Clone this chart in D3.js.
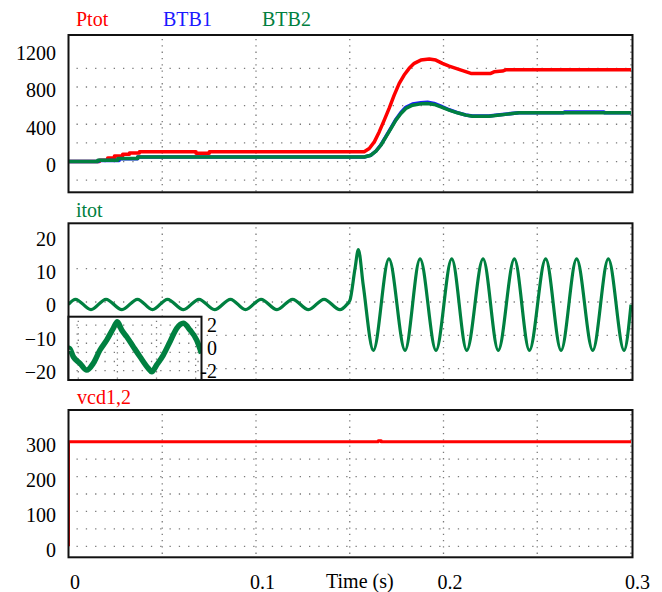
<!DOCTYPE html>
<html>
<head>
<meta charset="utf-8">
<script src="https://cdn.jsdelivr.net/npm/d3@7"></script>
<style>
  body { margin: 0; background: #fff; }
  svg text { font-family: "Liberation Serif", "Times New Roman", Times, Tinos, "DejaVu Serif", serif; }
</style>
</head>
<body>
<svg></svg>
<script>
// chart data
let timeTicks = [0, 0.1, 0.2, 0.3];
let timeGrid = [0.05, 0.1, 0.15, 0.2, 0.25, 0.3];
let legendNames = ["Ptot", "BTB1", "BTB2"];

let powerTicks = [0, 400, 800, 1200];
let powerGrid = [-200, 0, 200, 400, 600, 800, 1000];
let currentTicks = [-20, -10, 0, 10, 20];
let currentGrid = [-20, -10, 0, 10];
let voltageTicks = [0, 100, 200, 300];
let voltageGrid = [0, 50, 100, 150, 200, 250];
let insetTicks = [-2, 0, 2];
let insetGridY = [-2, -1.2, -0.4, 0.4, 1.2, 2];
let insetGridX = [2.5, 12.5, 22.5, 32.5];

// [time (s), value]
let ptot = [[0, 0], [0.0165, 0], [0.0165, 14], [0.0209, 14], [0.0209, 39], [0.0245, 39], [0.0245, 60],
  [0.0289, 60], [0.0289, 78], [0.0325, 78], [0.0325, 92], [0.0378, 92], [0.0378, 105], [0.068, 105],
  [0.068, 88], [0.0751, 88], [0.0751, 105], [0.1577, 105], [0.1604, 140], [0.1631, 211], [0.1657, 318],
  [0.1684, 444], [0.1710, 570], [0.1737, 713], [0.1764, 839], [0.1790, 928], [0.1817, 1000],
  [0.1844, 1054], [0.1879, 1089], [0.1924, 1100], [0.1959, 1089], [0.1994, 1054], [0.2030, 1025],
  [0.2066, 1000], [0.2110, 971], [0.2146, 946], [0.2252, 946], [0.2270, 963], [0.2314, 971],
  [0.2332, 985], [0.3, 985]];

let btb1 = [[0, 0], [0.0160, 0], [0.0160, 12], [0.0270, 12], [0.0270, 30], [0.0369, 30], [0.0369, 49],
  [0.1577, 49], [0.1613, 68], [0.1640, 113], [0.1666, 178], [0.1693, 270], [0.1720, 362], [0.1746, 452],
  [0.1773, 526], [0.1799, 582], [0.1835, 618], [0.1879, 632], [0.1915, 636], [0.1950, 624], [0.1986, 595],
  [0.2030, 556], [0.2074, 525], [0.2119, 500], [0.2154, 489], [0.2243, 489], [0.2288, 500], [0.2341, 511],
  [0.2403, 523], [0.2640, 523], [0.2645, 532], [0.2856, 532], [0.2860, 523], [0.3, 523]];

let btb2 = [[0, 0], [0.0156, 0], [0.0156, 14], [0.0263, 14], [0.0263, 32], [0.0369, 32], [0.0369, 49],
  [0.1577, 49], [0.1613, 68], [0.1640, 111], [0.1666, 175], [0.1693, 265], [0.1720, 355], [0.1746, 444],
  [0.1773, 516], [0.1799, 570], [0.1835, 605], [0.1879, 619], [0.1915, 624], [0.1950, 613], [0.1986, 587],
  [0.2030, 552], [0.2074, 523], [0.2119, 498], [0.2154, 487], [0.2243, 487], [0.2288, 498], [0.2341, 509],
  [0.2403, 523], [0.3, 523]];

let itot = [[0, -0.7], [0.0037, 0.8], [0.0120, -2.3], [0.0200, 0.8], [0.0285, -2.3], [0.0368, 0.8],
  [0.0448, -2.3], [0.0528, 0.8], [0.0613, -2.3], [0.0696, 0.8], [0.0779, -2.3], [0.0864, 0.8],
  [0.0944, -2.3], [0.1027, 0.8], [0.1112, -2.3], [0.1195, 0.8], [0.1280, -2.3], [0.1363, 0.8],
  [0.1448, -2.3], [0.1484, -0.8], [0.1501, 0.5], [0.1528, 10], [0.1546, 15.7], [0.1572, 5],
  [0.1626, -14.5], [0.1709, 12.9], [0.1795, -14.5], [0.1875, 12.9], [0.1960, -14.5], [0.2044, 12.9],
  [0.2124, -14.5], [0.2211, 12.9], [0.2292, -14.5], [0.2378, 12.9], [0.2458, -14.5], [0.2545, 12.9],
  [0.2627, -14.5], [0.2710, 12.9], [0.2796, -14.5], [0.2879, 12.9], [0.2963, -14.5], [0.3, -0.8]];

// inset: [time (ms), current]
let itotZoom = [[0, -0.1], [0.2, -0.04], [1.23, -0.78], [2.94, -1.36], [4.65, -1.95], [6.34, -1.36],
  [8.05, -0.19], [9.76, 0.68], [11.45, 1.71], [12.47, 2.29], [13.6, 1.56], [14.88, 0.97], [16.56, 0.1],
  [18.28, -0.78], [20.4, -1.8], [21.27, -2.1], [22.55, -1.5], [24.23, -0.63], [25.95, 0.54],
  [27.66, 1.71], [29.35, 2.15], [31.06, 1.56], [32.77, 0.68], [34, -0.48]];

let vcd = [[0, 0], [0, 300], [0.1652, 300], [0.1652, 303], [0.1668, 303], [0.1668, 300], [0.3, 300]];

// layout
let width = 662;
let height = 592;
let left = 68.5;
let right = 631;
let frameRight = 632.5;
let fontFamily = "'Liberation Serif', 'Times New Roman', Times, Tinos, 'DejaVu Serif', serif";
let red = "#ff0000";
let blue = "#1a1aff";
let green = "#008040";
let gridColor = "#7a7a7a";

let svg = d3.select("svg").attr("width", width).attr("height", height);

let xScale = d3.scaleLinear().domain([0, 0.3]).range([left, right]);
let yPower = d3.scaleLinear().domain([-330, 1358]).range([192.3, 35]);
let yCurrent = d3.scaleLinear().domain([-23.4, 23.6]).range([380, 223.3]);
let yVoltage = d3.scaleLinear().domain([-31.6, 391]).range([557.3, 410]);
let xInset = d3.scaleLinear().domain([0, 34]).range([left, 201.5]);
let yInset = d3.scaleLinear().domain([-2.82, 2.73]).range([380, 316.7]);

// dotted grid + clip for one panel
const drawPanel = (id, yScale, gridValues, x0, x1, xs, xGrid) => {
  let [yb, yt] = yScale.range();
  svg.append("clipPath").attr("id", id)
     .append("rect").attr("x", x0).attr("y", yt).attr("width", x1 - x0).attr("height", yb - yt);

  let g = svg.append("g");
  g.selectAll(".hg").data(gridValues).enter().append("line")
   .attr("x1", x0 + 8).attr("x2", x1)
   .attr("y1", d => yScale(d)).attr("y2", d => yScale(d))
   .attr("stroke", gridColor).attr("stroke-width", 1.3)
   .attr("stroke-dasharray", "1.3,8");
  g.selectAll(".vg").data(xGrid).enter().append("line")
   .attr("x1", d => xs(d)).attr("x2", d => xs(d))
   .attr("y1", yt + 4).attr("y2", yb)
   .attr("stroke", gridColor).attr("stroke-width", 1.3)
   .attr("stroke-dasharray", "1.3,5");
  return g;
}

const drawFrame = (x0, x1, yScale) => {
  let [yb, yt] = yScale.range();
  svg.append("rect").attr("x", x0).attr("y", yt).attr("width", x1 - x0).attr("height", yb - yt)
     .attr("fill", "none").attr("stroke", "#111").attr("stroke-width", 2);
}

const drawLine = (data, xs, ys, color, w, clip, curve) => {
  svg.append("path").datum(data)
     .attr("clip-path", `url(#${clip})`)
     .attr("fill", "none").attr("stroke", color).attr("stroke-width", w)
     .attr("stroke-linejoin", "round")
     .attr("d", d3.line().x(d => xs(d[0])).y(d => ys(d[1])).curve(curve || d3.curveLinear));
}

const drawYAxis = (yScale, ticks, x, pad) => {
  let axis = d3.axisLeft(yScale).tickValues(ticks).tickSize(0).tickPadding(pad).tickFormat(d3.format("d"));
  let g = svg.append("g").attr("transform", `translate(${x},0)`).call(axis);
  g.attr("font-family", null).attr("font-size", null);
  g.select(".domain").remove();
  g.selectAll("text").attr("font-size", 20).attr("font-family", fontFamily)
   .attr("fill", "#000").attr("dy", "0.5em");
}

// top panel: power
drawPanel("clipP", yPower, powerGrid, left, frameRight, xScale, timeGrid);
drawLine(ptot, xScale, yPower, red, 3.5, "clipP");
drawLine(btb1, xScale, yPower, blue, 3.5, "clipP");
drawLine(btb2, xScale, yPower, green, 3.5, "clipP");
drawFrame(left, frameRight, yPower);
drawYAxis(yPower, powerTicks, left, 12.5);

// middle panel: current
drawPanel("clipI", yCurrent, currentGrid, left, frameRight, xScale, timeGrid);
drawLine(itot, xScale, yCurrent, green, 3.2, "clipI", d3.curveMonotoneX);
drawFrame(left, frameRight, yCurrent);
drawYAxis(yCurrent, currentTicks, left, 12.5);

// inset zoom of the current
svg.append("rect").attr("x", left).attr("y", 316.7).attr("width", 201.5 - left).attr("height", 380 - 316.7)
   .attr("fill", "#fff");
drawPanel("clipIn", yInset, insetGridY, left, 201.5, xInset, insetGridX);
drawLine(itotZoom, xInset, yInset, green, 5.5, "clipIn", d3.curveMonotoneX);
drawFrame(left, 201.5, yInset);
svg.append("g").selectAll("text").data(insetTicks).enter().append("text")
   .attr("x", 217).attr("y", d => yInset(d)).attr("dy", "0.35em")
   .attr("text-anchor", "end").attr("font-size", 20).attr("font-family", fontFamily).text(d => d);

// bottom panel: dc voltage
drawPanel("clipV", yVoltage, voltageGrid, left, frameRight, xScale, timeGrid);
drawLine(vcd, xScale, yVoltage, red, 3, "clipV");
drawFrame(left, frameRight, yVoltage);
drawYAxis(yVoltage, voltageTicks, left, 12.5);

// time axis labels
let xAxis = d3.axisBottom(xScale).tickValues(timeTicks).tickSize(0).tickFormat(d => d);
let xg = svg.append("g").attr("transform", "translate(0,589)").call(xAxis);
xg.attr("font-family", null).attr("font-size", null);
xg.select(".domain").remove();
xg.selectAll("text").attr("y", 0).attr("dy", 0).attr("dx", 6)
  .attr("font-size", 20).attr("font-family", fontFamily).attr("fill", "#000");

svg.append("text").attr("x", 326).attr("y", 588).attr("font-size", 20)
   .attr("font-family", fontFamily).text("Time (s)");

// panel titles
let legendX = [76, 163, 262];
let legendColors = [red, blue, green];
svg.selectAll(".legend").data(legendNames).enter().append("text")
   .attr("x", (d, i) => legendX[i]).attr("y", 25.5).attr("font-family", fontFamily)
   .attr("font-size", 20).attr("fill", (d, i) => legendColors[i]).text(d => d);

svg.append("text").attr("x", 76).attr("y", 217).attr("font-size", 20).attr("font-family", fontFamily)
   .attr("fill", green).text("itot");
svg.append("text").attr("x", 77).attr("y", 404).attr("font-size", 20).attr("font-family", fontFamily)
   .attr("fill", red).text("vcd1,2");
</script>
</body>
</html>
